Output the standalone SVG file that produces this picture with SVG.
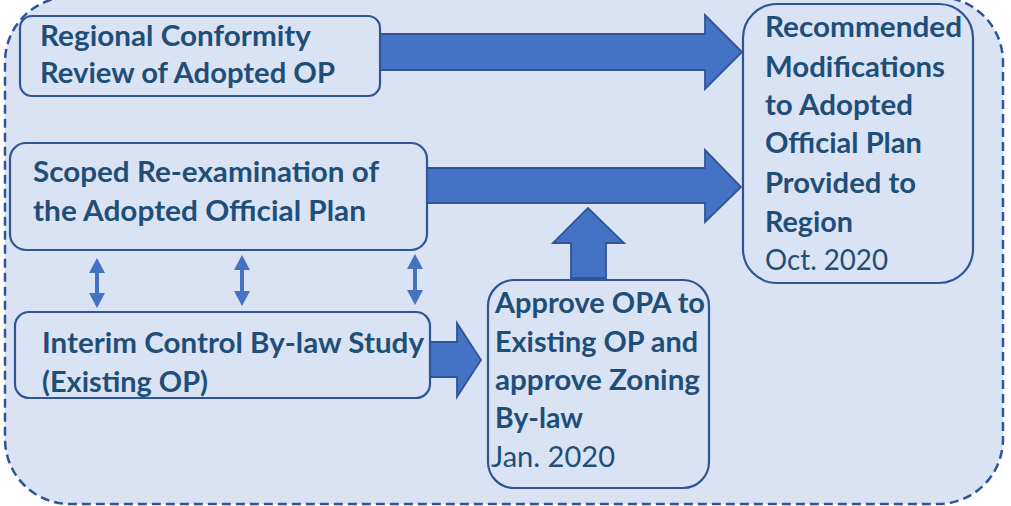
<svg xmlns="http://www.w3.org/2000/svg" width="1011" height="506" viewBox="0 0 1011 506">
<defs>
<style>
.box{fill:#DAE3F3;stroke:#2F5597;stroke-width:2.2}
.t{font-family:Lato,"Open Sans","Liberation Sans",sans-serif;font-weight:bold;font-size:29px;fill:#1F4E79}
.r{font-weight:normal}
.big{fill:#4472C4;stroke:#2F5597;stroke-width:1.8}
.dbl{stroke:#4472C4;stroke-width:4;fill:none}
.hd{fill:#4472C4}
</style>
</defs>
<rect width="1011" height="506" fill="#ffffff"/>
<rect id="container" x="5" y="-3" width="998" height="507" rx="65" fill="#DAE3F3" stroke="#2F5597" stroke-width="2.5" stroke-dasharray="9,5"/>
<g id="connectors">
<polygon class="big" points="380,34 705,34 705,15 742,52 705,89 705,70 380,70"/>
<polygon class="big" points="427,168 705,168 705,150 741,187 705,222 705,203 427,203"/>
<polygon class="big" points="571,278 571,243 553,243 588,208 624,243 606,243 606,278"/>
<polygon class="big" points="430,342 457,342 457,323 481,360 457,397 457,377 430,377"/>
<g>
<line class="dbl" x1="97" y1="270" x2="97" y2="296"/>
<polygon class="hd" points="97,258 105,273 89,273"/>
<polygon class="hd" points="97,308 105,293 89,293"/>
</g>
<g>
<line class="dbl" x1="242" y1="267" x2="242" y2="294"/>
<polygon class="hd" points="242,255 250,270 234,270"/>
<polygon class="hd" points="242,306 250,291 234,291"/>
</g>
<g>
<line class="dbl" x1="415" y1="266" x2="415" y2="293"/>
<polygon class="hd" points="415,254 423,269 407,269"/>
<polygon class="hd" points="415,305 423,290 407,290"/>
</g>
</g>
<g id="node-regional">
<rect class="box" x="20" y="16" width="360" height="80" rx="12"/>
<text class="t" x="40" y="46" textLength="271" lengthAdjust="spacingAndGlyphs">Regional Conformity</text>
<text class="t" x="40" y="83" textLength="295" lengthAdjust="spacingAndGlyphs">Review of Adopted OP</text>
</g>
<g id="node-scoped">
<rect class="box" x="10" y="143" width="417" height="107" rx="16"/>
<text class="t" x="33" y="182" textLength="346" lengthAdjust="spacingAndGlyphs">Scoped Re-examination of</text>
<text class="t" x="33" y="221" textLength="333" lengthAdjust="spacingAndGlyphs">the Adopted Official Plan</text>
</g>
<g id="node-interim">
<rect class="box" x="15" y="312" width="415" height="86" rx="14"/>
<text class="t" x="42" y="353" textLength="382" lengthAdjust="spacingAndGlyphs">Interim Control By-law Study</text>
<text class="t" x="42" y="392" textLength="166" lengthAdjust="spacingAndGlyphs">(Existing OP)</text>
</g>
<g id="node-approve">
<rect class="box" x="488" y="280" width="221" height="208" rx="26"/>
<text class="t" x="495" y="313" textLength="210" lengthAdjust="spacingAndGlyphs">Approve OPA to</text>
<text class="t" x="495" y="352" textLength="203" lengthAdjust="spacingAndGlyphs">Existing OP and</text>
<text class="t" x="495" y="390" textLength="205" lengthAdjust="spacingAndGlyphs">approve Zoning</text>
<text class="t" x="495" y="428" textLength="88" lengthAdjust="spacingAndGlyphs">By-law</text>
<text class="t r" x="491" y="467" textLength="124" lengthAdjust="spacingAndGlyphs">Jan. 2020</text>
</g>
<g id="node-recommended">
<rect class="box" x="743" y="4" width="230" height="279" rx="34" stroke-width="1.5"/>
<text class="t" x="765" y="37" textLength="197" lengthAdjust="spacingAndGlyphs">Recommended</text>
<text class="t" x="765" y="77" textLength="180" lengthAdjust="spacingAndGlyphs">Modifications</text>
<text class="t" x="765" y="115" textLength="148" lengthAdjust="spacingAndGlyphs">to Adopted</text>
<text class="t" x="765" y="153" textLength="157" lengthAdjust="spacingAndGlyphs">Official Plan</text>
<text class="t" x="765" y="193" textLength="151" lengthAdjust="spacingAndGlyphs">Provided to</text>
<text class="t" x="765" y="232" textLength="88" lengthAdjust="spacingAndGlyphs">Region</text>
<text class="t r" x="765" y="270" textLength="123" lengthAdjust="spacingAndGlyphs">Oct. 2020</text>
</g>
</svg>
